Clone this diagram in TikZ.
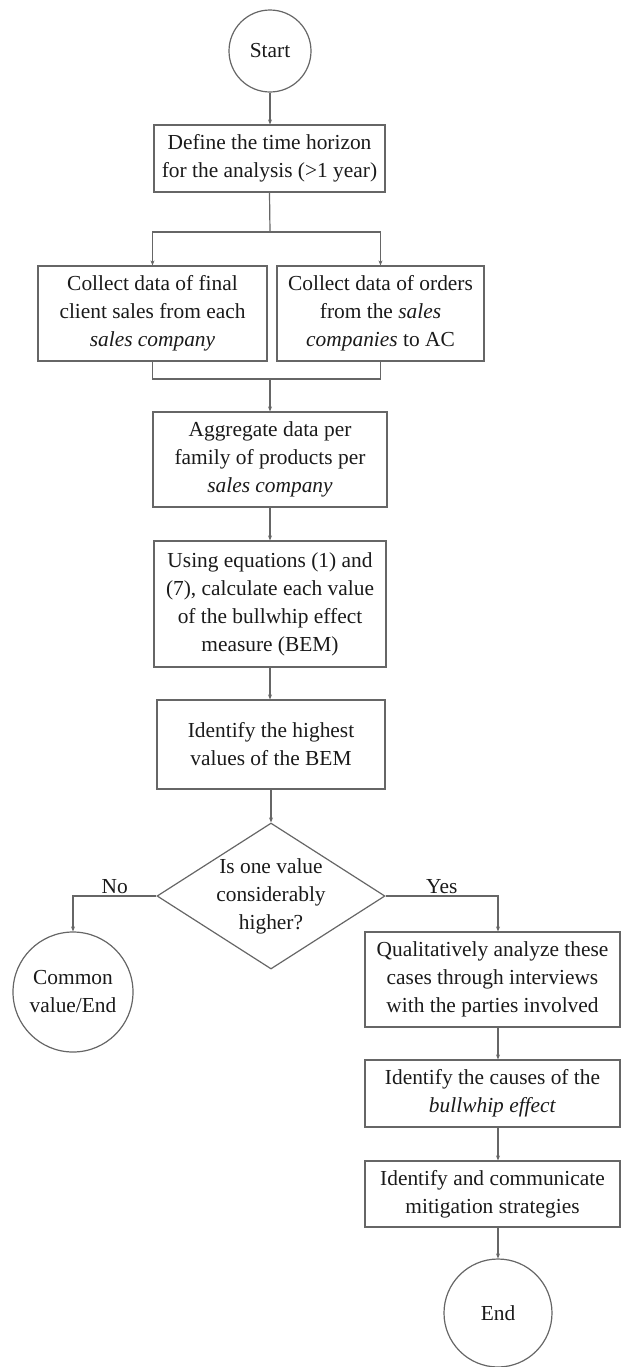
\documentclass[tikz,border=0pt]{standalone}
\usepackage{fontspec}
\setmainfont{Liberation Serif}
\usetikzlibrary{shapes.geometric,arrows.meta}
\definecolor{edgegray}{HTML}{666666}
\definecolor{inkc}{HTML}{1A1A1A}
\begin{document}
\begin{tikzpicture}[x=0.5pt,y=-0.5pt,
  every node/.style={font=\fontsize{10.7}{14}\selectfont, text=inkc},
  procbox/.style={draw=edgegray, line width=0.6pt, rectangle, align=center, inner sep=0pt},
  termcirc/.style={draw=edgegray, line width=0.6pt, circle, align=center, inner sep=0pt},
  decision/.style={draw=edgegray, line width=0.6pt, diamond, aspect=1.56, align=center, inner sep=0pt},
  link/.style={draw=edgegray, line width=0.6pt},
  arr/.style={link, -{Stealth[length=2.5pt,width=2pt]}},
  branchlbl/.style={inner sep=1pt},
]
\useasboundingbox (0,0) rectangle (621,1367);

% process steps
\node[termcirc, minimum size=41pt] (start) at (270,51) {Start};
\node[procbox, minimum width=115.5pt, minimum height=33.5pt] (horizon) at (269.5,158.5)
  {Define the time horizon\\for the analysis (>1 year)};
\node[procbox, minimum width=114.5pt, minimum height=47.5pt] (sales) at (152.5,313.5)
  {Collect data of final\\client sales from each\\\textit{sales company}};
\node[procbox, minimum width=103.5pt, minimum height=47.5pt] (orders) at (380.5,313.5)
  {Collect data of orders\\from the \textit{sales}\\\textit{companies} to AC};
\node[procbox, minimum width=117pt, minimum height=47.5pt] (aggr) at (270,459.5)
  {Aggregate data per\\family of products per\\\textit{sales company}};
\node[procbox, minimum width=116pt, minimum height=63pt] (bem) at (270,604)
  {Using equations (1) and\\(7), calculate each value\\of the bullwhip effect\\measure (BEM)};
\node[procbox, minimum width=114pt, minimum height=44.5pt] (high) at (271,744.5)
  {Identify the highest\\values of the BEM};
\node[decision, minimum width=114pt, minimum height=73pt] (dec) at (271,896)
  {Is one value\\considerably\\higher?};
\node[termcirc, minimum size=60pt] (common) at (73,992) {Common\\value/End};
\node[procbox, minimum width=127.5pt, minimum height=47.5pt] (qual) at (492.5,979.5)
  {Qualitatively analyze these\\cases through interviews\\with the parties involved};
\node[procbox, minimum width=127.5pt, minimum height=33.5pt] (causes) at (492.5,1093.5)
  {Identify the causes of the\\\textit{bullwhip effect}};
\node[procbox, minimum width=127.5pt, minimum height=33pt] (mitig) at (492.5,1194)
  {Identify and communicate\\mitigation strategies};
\node[termcirc, minimum size=54pt] (end) at (498,1313) {End};

% branch points and the right-hand column
\coordinate (split) at (270,232);
\coordinate (join) at (270,379);
\coordinate (rcol) at (498,0);

% connectors
\draw[arr] (start.south) -- (start.south |- horizon.north);
\draw[link] (horizon.south) -- (split);
\draw[arr] (split) -| (sales.north);
\draw[arr] (split) -| (orders.north);
\draw[link] (sales.south) |- (join);
\draw[link] (orders.south) |- (join);
\draw[arr] (join) -- (aggr.north);
\draw[arr] (aggr.south) -- (bem.north);
\draw[arr] (bem.south) -- (bem.south |- high.north);
\draw[arr] (high.south) -- (dec.north);
\draw[arr] (dec.west) -| node[pos=0.25, above, branchlbl] (nolbl) {No} (common.north);
\draw[arr] (dec.east) -| node[pos=0.25, above, branchlbl] (yeslbl) {Yes} (qual.north -| rcol);
\draw[arr] (qual.south -| rcol) -- (causes.north -| rcol);
\draw[arr] (causes.south -| rcol) -- (mitig.north -| rcol);
\draw[arr] (mitig.south -| rcol) -- (end.north);
\end{tikzpicture}
\end{document}
